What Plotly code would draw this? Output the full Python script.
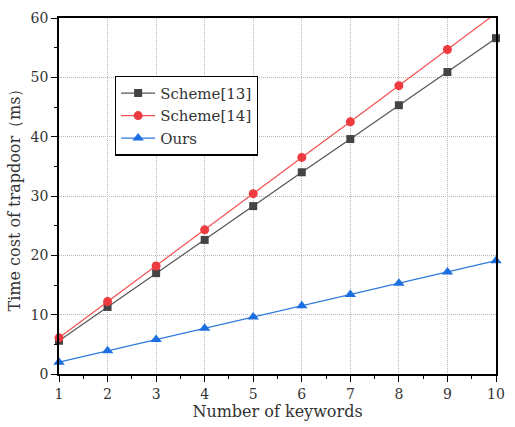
import plotly.graph_objects as go

keywords = [1, 2, 3, 4, 5, 6, 7, 8, 9, 10]
scheme13 = [5.6, 11.3, 17.0, 22.6, 28.3, 34.0, 39.6, 45.3, 50.9, 56.6]
scheme14 = [6.1, 12.2, 18.2, 24.3, 30.4, 36.5, 42.5, 48.6, 54.7, 60.8]
ours = [2.0, 3.9, 5.8, 7.7, 9.6, 11.5, 13.4, 15.3, 17.2, 19.1]

FONT = "DejaVu Serif, Liberation Serif, serif"

fig = go.Figure()
fig.add_trace(go.Scatter(x=keywords, y=scheme13, name="Scheme[13]", mode="lines+markers",
                         line=dict(color="#555555", width=1.2),
                         marker=dict(symbol="square", size=8, color="#444444"), cliponaxis=False))
fig.add_trace(go.Scatter(x=keywords, y=scheme14, name="Scheme[14]", mode="lines+markers",
                         line=dict(color="#f25050", width=1.2),
                         marker=dict(symbol="circle", size=9, color="#ee3b3f"), cliponaxis=False))
fig.add_trace(go.Scatter(x=keywords, y=ours, name="Ours", mode="lines+markers",
                         line=dict(color="#2a78dc", width=1.2),
                         marker=dict(symbol="triangle-up", size=10, color="#1c6fe0"), cliponaxis=False))

axis_common = dict(showline=True, linecolor="black", linewidth=1.5, mirror=True,
                   ticks="outside", ticklen=6, tickwidth=1.2, tickcolor="black",
                   showgrid=True, gridcolor="#b8b8b8", griddash="1px,1px", gridwidth=1,
                   zeroline=False, tickfont=dict(family=FONT, size=14, color="#333333"))

fig.update_xaxes(range=[1, 10], tickvals=keywords, title=dict(text="Number of keywords", font=dict(family=FONT, size=16, color="#333333"), standoff=4),
                 minor=dict(ticks="outside", ticklen=3, tickcolor="black", dtick=0.5, tick0=0.5, showgrid=False),
                 **axis_common)
fig.update_yaxes(range=[0, 60], dtick=10, title=dict(text="Time cost of trapdoor（ms）", font=dict(family=FONT, size=16, color="#333333"), standoff=6),
                 minor=dict(ticks="outside", ticklen=3, tickcolor="black", dtick=5, showgrid=False),
                 **axis_common)

fig.update_layout(width=515, height=427, margin=dict(l=59, r=10, t=14, b=53),
                  plot_bgcolor="white", paper_bgcolor="white",
                  legend=dict(x=0.128, y=0.838, xanchor="left", yanchor="top",
                              bordercolor="black", borderwidth=1.2, bgcolor="white",
                              font=dict(family=FONT, size=15, color="#333333"),
                              tracegroupgap=0, itemwidth=34))

fig.write_html("out.html")
